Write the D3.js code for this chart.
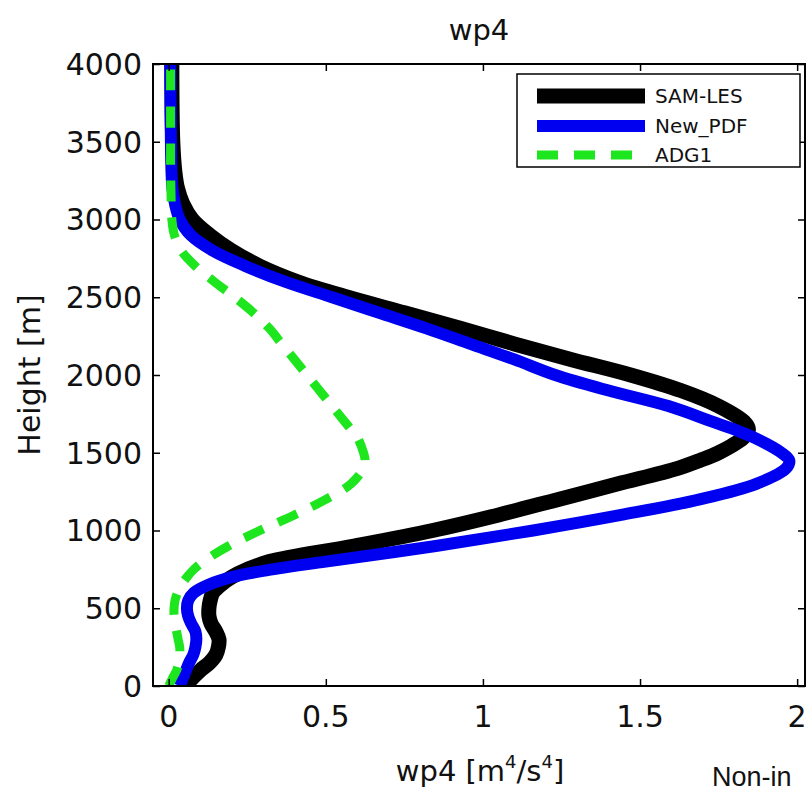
<!DOCTYPE html>
<html>
<head>
<meta charset="utf-8">
<script src="https://cdn.jsdelivr.net/npm/d3@7"></script>
<style>
  html, body { margin: 0; padding: 0; background: #fff; }
  svg { display: block; }
</style>
</head>
<body>
<div id="chart"></div>
<script>
// Heights [m] shared by all three profiles
const heights = [0, 50, 100, 150, 200, 250, 300, 350, 400, 450, 500, 550, 600, 650, 700, 750, 800,
    900, 1000, 1100, 1200, 1300, 1400, 1450, 1500, 1600, 1650, 1700, 1800, 1900, 2000, 2100, 2200,
    2300, 2400, 2500, 2600, 2700, 2800, 2900, 3000, 3100, 3200, 3300, 3500, 4000];

const samLes = [0.05, 0.075, 0.10, 0.13, 0.15, 0.158, 0.16, 0.15, 0.135, 0.128, 0.128, 0.132, 0.14,
    0.165, 0.20, 0.25, 0.32, 0.59, 0.84, 1.05, 1.24, 1.43, 1.62, 1.69, 1.75, 1.83, 1.845, 1.83, 1.75,
    1.63, 1.47, 1.28, 1.10, 0.93, 0.75, 0.57, 0.41, 0.29, 0.20, 0.13, 0.075, 0.045, 0.028, 0.02, 0.013, 0.01];

const newPdf = [0.035, 0.045, 0.055, 0.065, 0.078, 0.085, 0.088, 0.085, 0.072, 0.062, 0.058, 0.062, 0.08,
    0.125, 0.20, 0.33, 0.50, 0.85, 1.16, 1.44, 1.69, 1.87, 1.965, 1.975, 1.95, 1.86, 1.80, 1.73, 1.59,
    1.40, 1.23, 1.10, 0.96, 0.82, 0.67, 0.52, 0.37, 0.245, 0.14, 0.07, 0.035, 0.02, 0.012, 0.009, 0.007, 0.005];

const adg1 = [0.0, 0.012, 0.025, 0.032, 0.035, 0.035, 0.03, 0.025, 0.02, 0.017, 0.017, 0.02, 0.028,
    0.04, 0.058, 0.08, 0.11, 0.19, 0.29, 0.40, 0.50, 0.58, 0.62, 0.625, 0.62, 0.60, 0.58, 0.56, 0.52,
    0.48, 0.44, 0.40, 0.36, 0.32, 0.27, 0.21, 0.145, 0.085, 0.04, 0.018, 0.01, 0.008, 0.007, 0.006, 0.006, 0.006];

const xTicks = [0, 0.5, 1, 1.5, 2];
const yTicks = [0, 500, 1000, 1500, 2000, 2500, 3000, 3500, 4000];

const seriesNames = ['SAM-LES', 'New_PDF', 'ADG1'];
const seriesColors = ['#000000', '#0000f0', '#1ee61e'];
const seriesWidths = [15, 12, 9];
const seriesDash = [null, null, '21,16'];

const W = 811, H = 793;
const plot = { left: 153, right: 805, top: 64, bottom: 686 };
const font = 'DejaVu Sans, sans-serif';

const svg = d3.select('#chart').append('svg')
    .attr('width', W).attr('height', H);

const x = d3.scaleLinear().domain([-0.05, 2.025]).range([plot.left, plot.right]);
const y = d3.scaleLinear().domain([0, 4000]).range([plot.bottom, plot.top]);

svg.append('defs').append('clipPath').attr('id', 'plotclip')
    .append('rect')
    .attr('x', plot.left).attr('y', plot.top)
    .attr('width', plot.right - plot.left).attr('height', plot.bottom - plot.top);

// Profiles
const line = d3.line()
    .x(d => x(d[0])).y(d => y(d[1]))
    .curve(d3.curveCatmullRom.alpha(0.5));

const lines = svg.append('g').attr('clip-path', 'url(#plotclip)');
[samLes, newPdf, adg1].forEach((vals, i) => {
    lines.append('path')
        .datum(vals.map((v, j) => [v, heights[j]]))
        .attr('fill', 'none')
        .attr('stroke', seriesColors[i])
        .attr('stroke-width', seriesWidths[i])
        .attr('stroke-dasharray', seriesDash[i])
        .attr('stroke-linejoin', 'round')
        .attr('d', line);
});

// Axes box with inward ticks on all sides
const styleAxis = ax => {
    ax.select('.domain').remove();
    ax.selectAll('line').attr('stroke', '#000').attr('stroke-width', 1.5);
};
svg.append('g').attr('transform', `translate(0,${plot.bottom})`)
    .call(d3.axisBottom(x).tickValues(xTicks).tickSize(-7).tickFormat(''))
    .call(styleAxis);
svg.append('g').attr('transform', `translate(0,${plot.top})`)
    .call(d3.axisTop(x).tickValues(xTicks).tickSize(-7).tickFormat(''))
    .call(styleAxis);
svg.append('g').attr('transform', `translate(${plot.left},0)`)
    .call(d3.axisLeft(y).tickValues(yTicks).tickSize(-7).tickFormat(''))
    .call(styleAxis);
svg.append('g').attr('transform', `translate(${plot.right},0)`)
    .call(d3.axisRight(y).tickValues(yTicks).tickSize(-7).tickFormat(''))
    .call(styleAxis);

svg.append('rect')
    .attr('x', plot.left).attr('y', plot.top)
    .attr('width', plot.right - plot.left).attr('height', plot.bottom - plot.top)
    .attr('fill', 'none').attr('stroke', '#000').attr('stroke-width', 2);

// Tick labels
svg.append('g').selectAll('text').data(xTicks).join('text')
    .attr('x', d => x(d)).attr('y', 727)
    .attr('text-anchor', 'middle')
    .attr('font-family', font).attr('font-size', 30).attr('fill', '#111')
    .text(d => String(d));
svg.append('g').selectAll('text').data(yTicks).join('text')
    .attr('x', 142).attr('y', d => y(d)).attr('dy', '0.36em')
    .attr('text-anchor', 'end')
    .attr('font-family', font).attr('font-size', 30).attr('fill', '#111')
    .text(d => String(d));

// Title and axis labels
svg.append('text')
    .attr('x', (plot.left + plot.right) / 2).attr('y', 40)
    .attr('text-anchor', 'middle')
    .attr('font-family', font).attr('font-size', 29).attr('fill', '#111')
    .text('wp4');

const xl = svg.append('text')
    .attr('x', 480).attr('y', 781)
    .attr('text-anchor', 'middle')
    .attr('font-family', font).attr('font-size', 29).attr('fill', '#111');
xl.append('tspan').text('wp4 [m');
xl.append('tspan').attr('font-size', 18).attr('dy', -13).text('4');
xl.append('tspan').attr('dy', 13).text('/s');
xl.append('tspan').attr('font-size', 18).attr('dy', -13).text('4');
xl.append('tspan').attr('dy', 13).text(']');

svg.append('text')
    .attr('transform', `translate(40,${(plot.top + plot.bottom) / 2}) rotate(-90)`)
    .attr('text-anchor', 'middle')
    .attr('font-family', font).attr('font-size', 30).attr('fill', '#111')
    .text('Height [m]');

// Legend
const lg = svg.append('g');
lg.append('rect')
    .attr('x', 517).attr('y', 74).attr('width', 283).attr('height', 93)
    .attr('fill', '#fff').attr('stroke', '#000').attr('stroke-width', 1.5);
const rowY = [96, 126, 155];
seriesNames.forEach((name, i) => {
    lg.append('line')
        .attr('x1', 537).attr('x2', 645).attr('y1', rowY[i]).attr('y2', rowY[i])
        .attr('stroke', seriesColors[i])
        .attr('stroke-width', seriesWidths[i])
        .attr('stroke-dasharray', seriesDash[i]);
    lg.append('text')
        .attr('x', 655).attr('y', rowY[i] + 7)
        .attr('font-family', font).attr('font-size', 20).attr('fill', '#111')
        .text(name);
});

// Fragment of surrounding page text
svg.append('text')
    .attr('x', 712).attr('y', 786)
    .attr('font-family', 'Liberation Sans, Arial, sans-serif').attr('font-size', 27).attr('fill', '#111')
    .text('Non-in');
</script>
</body>
</html>
